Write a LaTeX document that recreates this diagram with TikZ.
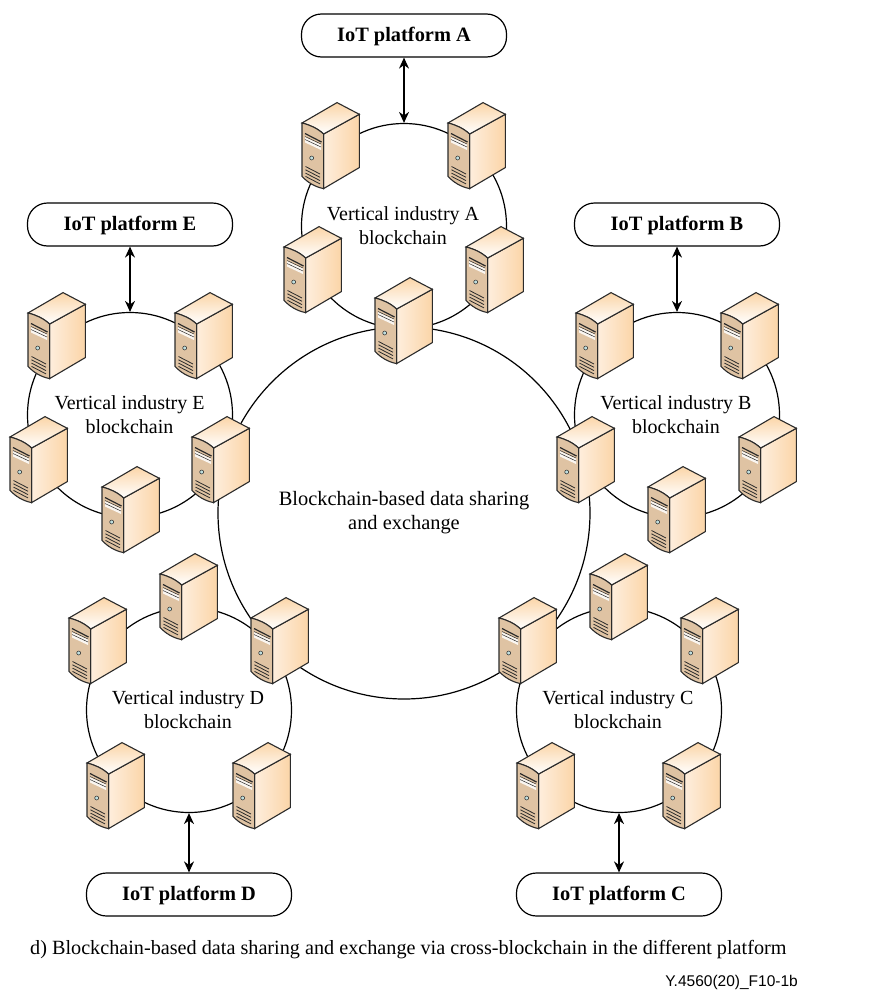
\documentclass[tikz,border=0pt]{standalone}
\usepackage{fontspec}
\setmainfont{Liberation Serif}
\newfontfamily\tagfont{Liberation Sans}
\usetikzlibrary{arrows.meta}
\definecolor{srvfront}{HTML}{DFC3A3}
\definecolor{srvlight}{HTML}{FEEEDD}
\definecolor{srvdark}{HTML}{FBD5A8}
\definecolor{srvline}{HTML}{2B2B2B}
\tikzset{
	ring/.style={draw, circle, line width=1.2pt, minimum size=#1, inner sep=0pt},
	platform/.style={draw, rounded corners=20pt, line width=1.2pt, minimum width=205, minimum height=43, text depth=3pt, text height=15pt, font=\fontsize{20.4}{24}\selectfont\bfseries},
	label/.style={align=center, font=\fontsize{20}{24}\selectfont},
	link/.style={{Stealth[length=11pt,width=10pt]}-{Stealth[length=11pt,width=10pt]}, line width=1.2pt},
	server/.pic={
		%%side and top
		\draw[srvline, line width=1.1pt, left color=srvlight, right color=srvdark, shading angle=90] (21.6,11) -- (57.3,-8.7) -- (57.3,44.6) -- (21.6,65.6) -- cycle;
		\draw[srvline, line width=1.1pt, top color=srvdark, bottom color=white] (0,0) -- (35,-20.4) -- (57.3,-8.7) -- (21.6,11) .. controls (15,5) and (8,2) .. (0,0) -- cycle;
		%%front
		\draw[srvline, line width=1.1pt, fill=srvfront] (0,0) .. controls (8,2) and (15,5) .. (21.6,11) -- (21.6,65.6) .. controls (13,64) and (5,59) .. (0,53.3) -- cycle;
		\draw[srvline, line width=1.2pt] (3,10.5) -- (19.5,19);
		\fill[white!85!srvfront] (3,14) -- (19,21.5) -- (19,27) -- (3,19.5) -- cycle;
		\draw[srvline, line width=0.5pt] (3,13.5) -- (19,21) (3,16.5) -- (19,24);
		\draw[srvline, line width=0.5pt, fill=teal!25] (9.7,35) circle (2);
		\foreach \k in {0,1,2,3}
			\draw[srvline, line width=0.8pt] (3.5,43.5+3.3*\k) -- (18,51+3.3*\k);
	}
}
\begin{document}
\begin{tikzpicture}[x=1pt, y=-1pt]
	\useasboundingbox (0,0) rectangle (881,1001);

	%%the rings
	\node[ring=372] (exchange) at (404,513) {};
	\node[ring=205] (ringA) at (404,226) {};
	\node[ring=205] (ringB) at (677,415) {};
	\node[ring=205] (ringC) at (619,710) {};
	\node[ring=205] (ringD) at (189,710) {};
	\node[ring=205] (ringE) at (130,415) {};

	%%the servers, top left corner of the front
	\foreach \x/\y in {302/123, 448/123, 284/247, 466/247, 375/298,
		576/313, 721/313, 739/437, 648/487, 557/437,
		590/574, 681/618, 499/618, 517/763, 663/763,
		160/574, 69/618, 251/618, 87/763, 233/763,
		28/313, 175/313, 10/437, 102/487, 192/437}
		\pic at (\x,\y) {server};

	%%labels
	\node[label] (textA) at (403,226) {Vertical industry A\\blockchain};
	\node[label] (textB) at (676,415) {Vertical industry B\\blockchain};
	\node[label] (textC) at (618,710) {Vertical industry C\\blockchain};
	\node[label] (textD) at (188,710) {Vertical industry D\\blockchain};
	\node[label] (textE) at (129.5,415) {Vertical industry E\\blockchain};
	\node[label, font=\fontsize{20.4}{24}\selectfont] (textX) at (404,513) {Blockchain-based data sharing\\and exchange};

	%%platforms and their arrows
	\node[platform] (platA) at (404,35.5) {IoT platform A};
	\node[platform] (platB) at (677,224.5) {IoT platform B};
	\node[platform] (platC) at (619,894.5) {IoT platform C};
	\node[platform] (platD) at (189,894.5) {IoT platform D};
	\node[platform] (platE) at (130,224.5) {IoT platform E};
	\draw[link] (platA.south) -- (ringA.north);
	\draw[link] (platB.south) -- (ringB.north);
	\draw[link] (platC.north) -- (ringC.south);
	\draw[link] (platD.north) -- (ringD.south);
	\draw[link] (platE.south) -- (ringE.north);

	%%caption
	\node[anchor=west, inner sep=0pt, font=\fontsize{20.2}{24}\selectfont] (caption) at (30,950) {d) Blockchain-based data sharing and exchange via cross-blockchain in the different platform};
	\node[anchor=east, inner sep=0pt, font=\fontsize{15.5}{18}\selectfont\tagfont] (figtag) at (798,982) {Y.4560(20)\_F10-1b};
\end{tikzpicture}
\end{document}
